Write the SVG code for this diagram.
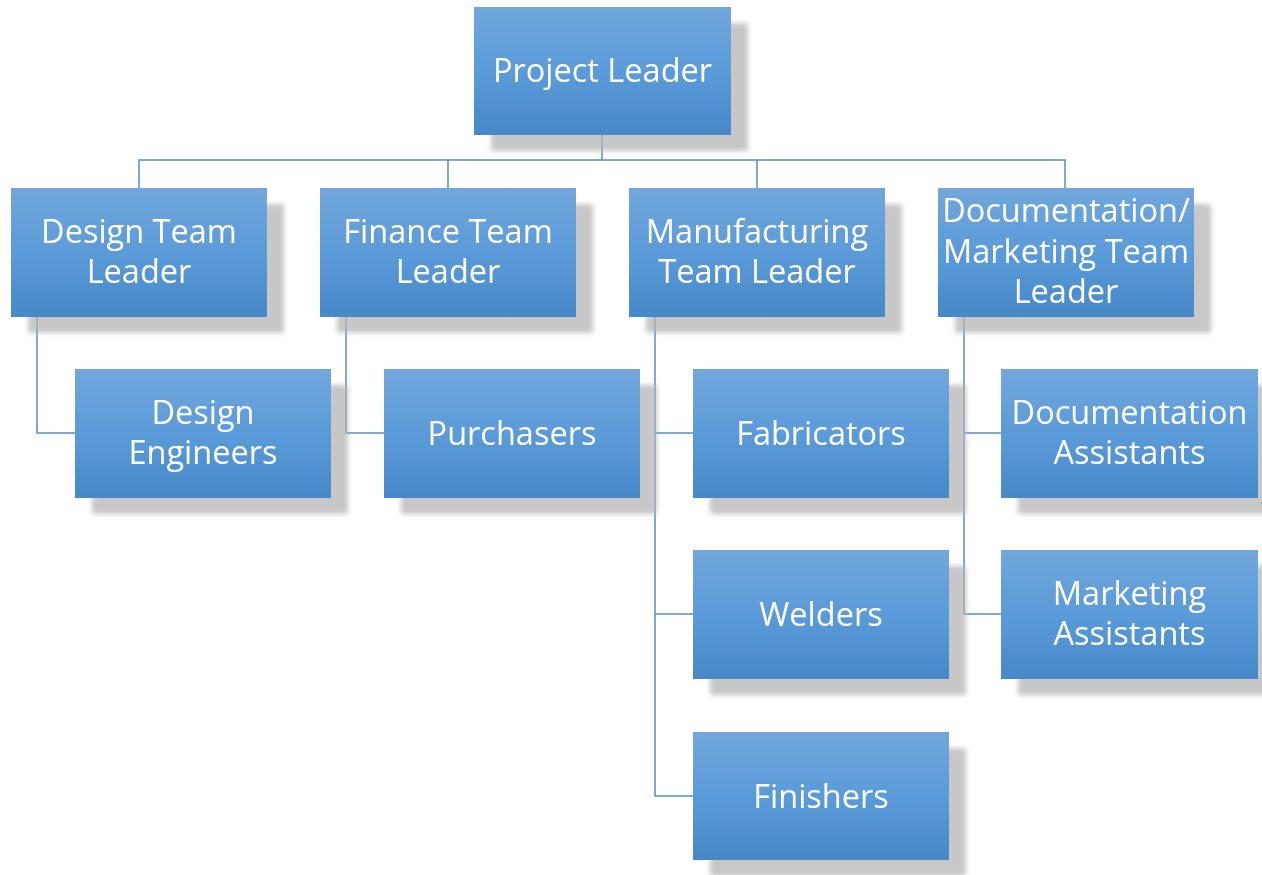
<svg xmlns="http://www.w3.org/2000/svg" width="1262" height="875" viewBox="0 0 1262 875">
<defs>
<linearGradient id="g" x1="0" y1="0" x2="0" y2="1">
<stop offset="0" stop-color="#71a7dc"/>
<stop offset="0.5" stop-color="#5b9bd9"/>
<stop offset="1" stop-color="#4688c8"/>
</linearGradient>
<filter id="sh" x="-10%" y="-10%" width="130%" height="140%">
<feOffset in="SourceAlpha" dx="17" dy="16" result="o"/>
<feGaussianBlur in="o" stdDeviation="2.5" result="b"/>
<feFlood flood-color="#b4b4b4" flood-opacity="0.75"/>
<feComposite in2="b" operator="in" result="s"/>
<feMerge><feMergeNode in="s"/><feMergeNode in="SourceGraphic"/></feMerge>
</filter>
</defs>
<style>
.n{filter:url(#sh)}
.n rect{fill:url(#g)}
.n text{fill:#fff;font-family:"Open Sans","Noto Sans",sans-serif;font-size:32.5px;text-anchor:middle}
.c{fill:none;stroke:#5a8dc4;stroke-width:1.5}
</style>
<g id="connectors" class="c">
<path d="M602,135V160M139,188V160H1065V188M448,160V188M757,160V188"/>
<path d="M37,317V433H75"/>
<path d="M346,317V433H384"/>
<path d="M655,317V796H693M655,433H693M655,614H693"/>
<path d="M964,317V614H1001M964,433H1001"/>
</g>
<g id="project-leader" class="n"><rect x="474" y="7" width="257" height="128"/><text x="602.5" y="82">Project Leader</text></g>
<g id="design-team-leader" class="n"><rect x="11" y="188" width="256" height="129"/><text x="139" y="243">Design Team</text><text x="139" y="283">Leader</text></g>
<g id="finance-team-leader" class="n"><rect x="320" y="188" width="256" height="129"/><text x="448" y="243">Finance Team</text><text x="448" y="283">Leader</text></g>
<g id="manufacturing-team-leader" class="n"><rect x="629" y="188" width="256" height="129"/><text x="757" y="243">Manufacturing</text><text x="757" y="283">Team Leader</text></g>
<g id="doc-marketing-team-leader" class="n"><rect x="938" y="188" width="256" height="129"/><text x="1066" y="222">Documentation/</text><text x="1066" y="263">Marketing Team</text><text x="1066" y="303">Leader</text></g>
<g id="design-engineers" class="n"><rect x="75" y="369" width="256" height="129"/><text x="203" y="424">Design</text><text x="203" y="464">Engineers</text></g>
<g id="purchasers" class="n"><rect x="384" y="369" width="256" height="129"/><text x="512" y="445">Purchasers</text></g>
<g id="fabricators" class="n"><rect x="693" y="369" width="256" height="129"/><text x="821" y="445">Fabricators</text></g>
<g id="documentation-assistants" class="n"><rect x="1001" y="369" width="257" height="129"/><text x="1129.5" y="424">Documentation</text><text x="1129.5" y="464">Assistants</text></g>
<g id="welders" class="n"><rect x="693" y="550" width="256" height="129"/><text x="821" y="626">Welders</text></g>
<g id="marketing-assistants" class="n"><rect x="1001" y="550" width="257" height="129"/><text x="1129.5" y="605">Marketing</text><text x="1129.5" y="645">Assistants</text></g>
<g id="finishers" class="n"><rect x="693" y="732" width="256" height="128"/><text x="821" y="808">Finishers</text></g>
</svg>
